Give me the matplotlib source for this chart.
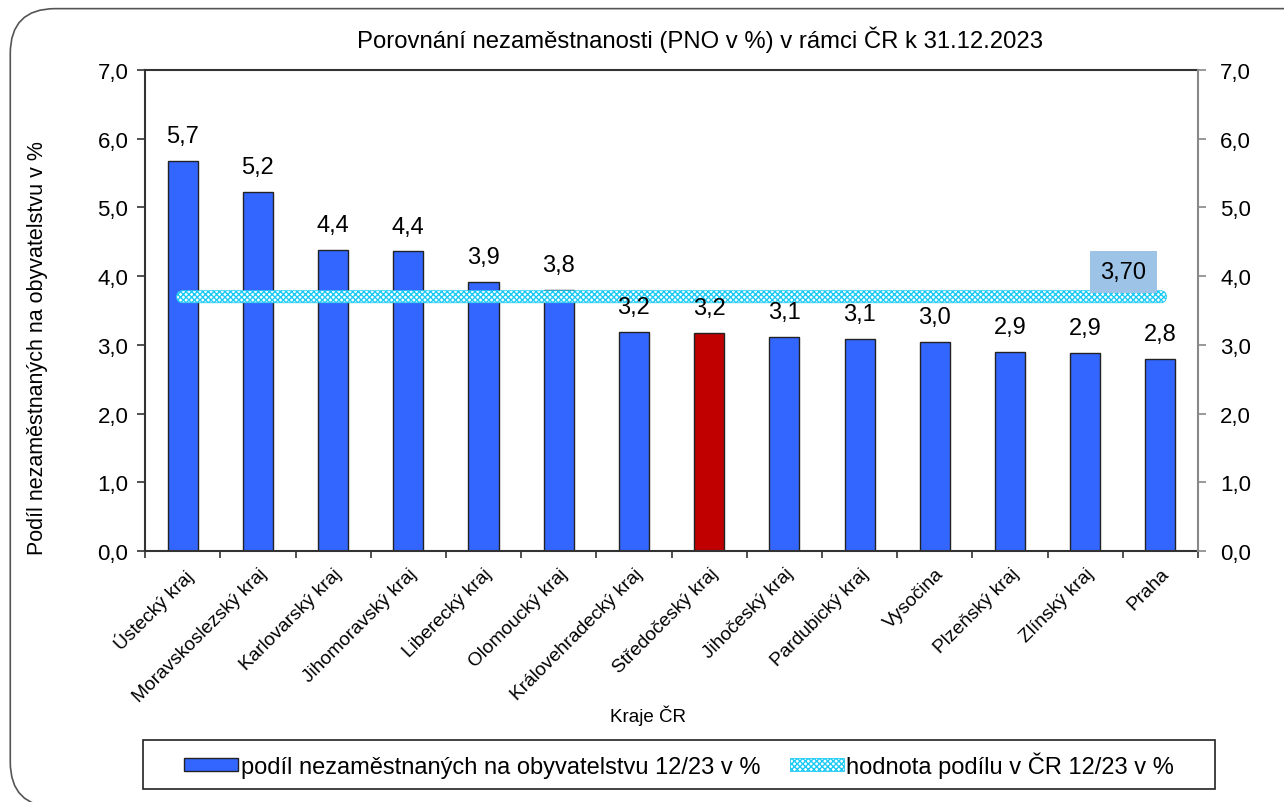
import matplotlib
matplotlib.use("Agg")
import matplotlib.pyplot as plt
import matplotlib.transforms as mtransforms
from matplotlib.patches import FancyBboxPatch, Patch, Rectangle

plt.rcParams['font.family'] = ['Liberation Sans', 'DejaVu Sans']
plt.rcParams['hatch.linewidth'] = 1.0

categories = ["Ústecký kraj", "Moravskoslezský kraj", "Karlovarský kraj", "Jihomoravský kraj",
              "Liberecký kraj", "Olomoucký kraj", "Královehradecký kraj", "Středočeský kraj",
              "Jihočeský kraj", "Pardubický kraj", "Vysočina", "Plzeňský kraj", "Zlínský kraj", "Praha"]
values = [5.67, 5.23, 4.38, 4.36, 3.92, 3.80, 3.19, 3.17, 3.11, 3.09, 3.04, 2.90, 2.88, 2.80]
cr_value = 3.70
highlight = "Středočeský kraj"
yticks = [0, 1, 2, 3, 4, 5, 6, 7]

LINE_CYAN = '#1ccaf5'

fig = plt.figure(figsize=(12.84, 8.03), dpi=100)
ax = fig.add_axes([0.113, 0.3126, 0.82, 0.599])

x = list(range(len(categories)))
colors = ['#C00000' if c == highlight else '#3366FF' for c in categories]
ax.bar(x, values, width=0.4, color=colors, edgecolor='#222222', linewidth=1.0, zorder=2)

for xi, v in zip(x, values):
    ax.annotate(f"{v:.1f}".replace('.', ','), xy=(xi, v), xytext=(0, 10), textcoords='offset points',
                ha='center', va='bottom', fontsize=17, zorder=4)

ax.set_xlim(-0.5, len(categories) - 0.5)
ax.set_ylim(0, 7)

# national average line, drawn as a hatched rounded band between first and last category
px_per_x = 1053 / len(categories)
px_per_y = 481 / 7.0
half_h = 6.0 / px_per_y
rad_x = 6.0 / px_per_x
band = FancyBboxPatch((x[0], cr_value), x[-1] - x[0], 0.0,
                      boxstyle=f'round,pad={rad_x},rounding_size={rad_x}',
                      mutation_aspect=half_h / rad_x,
                      facecolor='white', edgecolor=LINE_CYAN, hatch='xxxxxx', linewidth=0.6, zorder=3)
ax.add_patch(band)

ax.text(x[-1] - 0.49, cr_value + 0.36, f"{cr_value:.2f}".replace('.', ','), ha='center', va='center',
        fontsize=17, zorder=4,
        bbox=dict(boxstyle='square,pad=0.43', facecolor='#9DC3E6', edgecolor='none'))

ax.set_yticks(yticks)
ax.set_yticklabels([f"{t:.1f}".replace('.', ',') for t in yticks], fontsize=16)
ax.set_xticks(x)
ax.set_xticklabels(categories, rotation=45, ha='right', rotation_mode='anchor', fontsize=13.8)
shift = mtransforms.ScaledTranslation(-5 / 100, 0, fig.dpi_scale_trans)
for lbl in ax.get_xticklabels():
    lbl.set_transform(lbl.get_transform() + shift)
ax.set_xticks([i - 0.5 for i in range(len(categories) + 1)], minor=True)
ax.tick_params(axis='x', which='major', length=0, pad=10)
ax.tick_params(axis='x', which='minor', length=5, color='#333333', width=1.2)
ax.tick_params(axis='y', direction='out', length=6, color='#333333', width=1.2, pad=6)
for s in ['left', 'bottom', 'top']:
    ax.spines[s].set_color('#333333')
    ax.spines[s].set_linewidth(1.5)
ax.spines['right'].set_visible(False)

ax2 = ax.twinx()
ax2.set_ylim(0, 7)
ax2.set_yticks(yticks)
ax2.set_yticklabels([f"{t:.1f}".replace('.', ',') for t in yticks], fontsize=16)
ax2.tick_params(axis='y', direction='out', length=6, color='#888888', width=1.2, pad=10)
for s in ['left', 'bottom', 'top']:
    ax2.spines[s].set_visible(False)
ax2.spines['right'].set_color('#888888')
ax2.spines['right'].set_linewidth(1.5)

fig.text(38 / 1284, 1 - 348 / 803, "Podíl nezaměstnaných na obyvatelstvu v %", rotation=90,
         ha='center', va='center', fontsize=15.5)
fig.text(648 / 1284, 1 - 716 / 803, "Kraje ČR", ha='center', va='center', fontsize=13.5)
fig.text(700 / 1284, 1 - 40 / 803, "Porovnání nezaměstnanosti (PNO v %) v rámci ČR k 31.12.2023",
         ha='center', va='center', fontsize=17.2)

# legend
leg_left, leg_bottom, leg_w, leg_h = 143 / 1284, 13 / 803, 1072 / 1284, 49 / 803
fig.patches.append(Rectangle((leg_left, leg_bottom), leg_w, leg_h, transform=fig.transFigure,
                             facecolor='white', edgecolor='#222222', linewidth=1.2, zorder=1))
handles = [Patch(facecolor='#3366FF', edgecolor='#222222', linewidth=1.0),
           Patch(facecolor='white', edgecolor=LINE_CYAN, hatch='xxxxxx', linewidth=0.6)]
leg = fig.legend(handles, ["podíl nezaměstnaných na obyvatelstvu 12/23 v %", "hodnota podílu v ČR 12/23 v %"],
                 loc='center', bbox_to_anchor=(leg_left + leg_w / 2, leg_bottom + leg_h / 2), ncol=2,
                 fontsize=17, frameon=False, handlelength=2.3, handleheight=0.45, handletextpad=0.1,
                 columnspacing=1.25, borderaxespad=0, borderpad=0)

border = FancyBboxPatch((0.008, -0.006), 1.1, 0.994, boxstyle='round,pad=0,rounding_size=0.035',
                        transform=fig.transFigure, facecolor='none', edgecolor='#555555', linewidth=1.2,
                        mutation_aspect=1.6)
fig.patches.append(border)

fig.savefig("out.png", dpi=100)
